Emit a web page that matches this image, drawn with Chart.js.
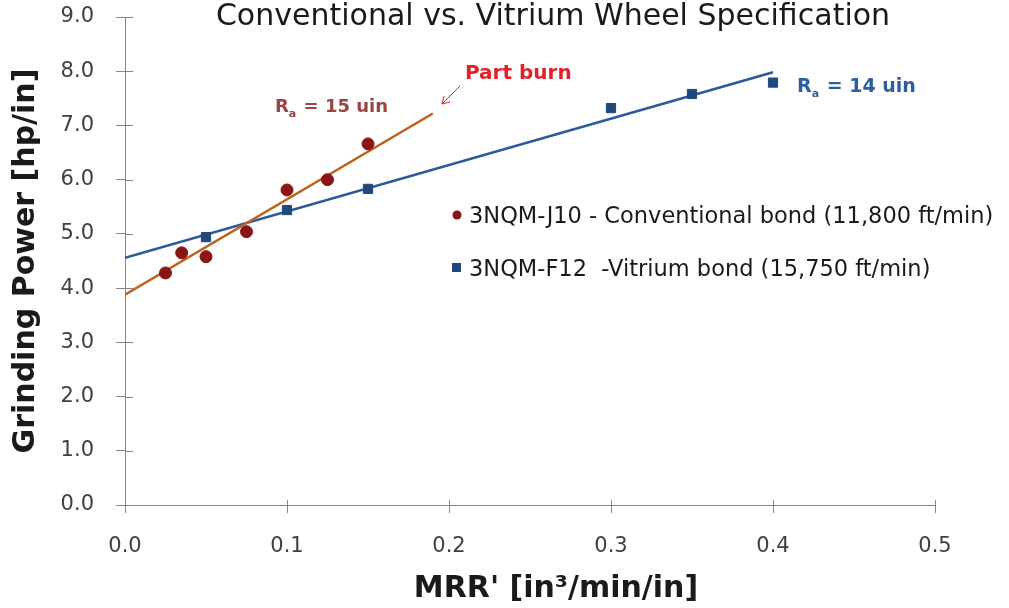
<!DOCTYPE html>
<html>
<head>
<meta charset="utf-8">
<script src="https://cdn.jsdelivr.net/npm/chart.js@4"></script>
<style>
  html, body { margin: 0; padding: 0; background: #fff; }
  #wrap { width: 1009px; height: 608px; }
</style>
</head>
<body>
<div id="wrap"><canvas id="grindChart" width="1009" height="608"></canvas></div>
<script>
// values
const convX = [0.025, 0.035, 0.05, 0.075, 0.1, 0.125, 0.15];
const convY = [4.28, 4.65, 4.58, 5.04, 5.81, 6.0, 6.66];
const vitX = [0.05, 0.1, 0.15, 0.3, 0.35, 0.4];
const vitY = [4.94, 5.44, 5.83, 7.32, 7.58, 7.79];
// trend line end points
const convFitX = [0, 0.19];
const convFitY = [3.88, 7.22];
const vitFitX = [0, 0.4];
const vitFitY = [4.56, 7.98];
const xTicks = [0, 0.1, 0.2, 0.3, 0.4, 0.5];
const yTicks = [0, 1, 2, 3, 4, 5, 6, 7, 8, 9];

const legendLabels = [
  "3NQM-J10 - Conventional bond (11,800 ft/min)",
  "3NQM-F12  -Vitrium bond (15,750 ft/min)",
];

const toPts = (xs, ys) => xs.map((x, i) => ({ x: x, y: ys[i] }));

const FONT = "'DejaVu Sans', sans-serif";

const extras = {
  id: "extras",
  afterDraw(chart) {
    const ctx = chart.ctx;
    const xs = chart.scales.x;
    const ys = chart.scales.y;
    ctx.save();
    ctx.textBaseline = "alphabetic";

    // inner halves of the tick marks (ticks cross the axes)
    ctx.strokeStyle = "#868686";
    ctx.lineWidth = 1;
    ctx.beginPath();
    yTicks.forEach((v) => {
      const py = Math.round(ys.getPixelForValue(v)) + 0.5;
      ctx.moveTo(xs.left, py);
      ctx.lineTo(xs.left + 8, py);
    });
    xTicks.forEach((v) => {
      const px = Math.round(xs.getPixelForValue(v)) + 0.5;
      ctx.moveTo(px, ys.bottom);
      ctx.lineTo(px, ys.bottom - 5);
    });
    ctx.stroke();

    // title (cut off at top like the original)
    ctx.fillStyle = "#1a1a1a";
    ctx.font = "30px " + FONT;
    ctx.textAlign = "center";
    ctx.fillText("Conventional vs. Vitrium Wheel Specification", 553, 25);

    // x axis title
    ctx.font = "bold 30px " + FONT;
    ctx.fillText("MRR' [in³/min/in]", 556, 597);

    // Ra labels
    const sub = (txt, sb, rest, x, y, color, size) => {
      ctx.fillStyle = color;
      ctx.textAlign = "left";
      ctx.font = "bold " + size + "px " + FONT;
      ctx.fillText(txt, x, y);
      let w = ctx.measureText(txt).width;
      ctx.font = "bold 11px " + FONT;
      ctx.fillText(sb, x + w, y + 5);
      w += ctx.measureText(sb).width + 1;
      ctx.font = "bold " + size + "px " + FONT;
      ctx.fillText(rest, x + w, y);
    };
    sub("R", "a", " = 15 uin", 275, 112, "#9a4444", 18);
    sub("R", "a", " = 14 uin", 797, 92, "#2e5e9e", 19);

    // part burn note and arrow
    ctx.fillStyle = "#e3202a";
    ctx.font = "bold 20px " + FONT;
    ctx.textAlign = "left";
    ctx.fillText("Part burn", 465, 79);
    ctx.strokeStyle = "#e3202a";
    ctx.lineWidth = 1;
    ctx.beginPath();
    ctx.moveTo(460, 86);
    ctx.lineTo(442, 104);
    ctx.stroke();
    ctx.beginPath();
    ctx.moveTo(442, 104);
    ctx.lineTo(444, 96);
    ctx.moveTo(442, 104);
    ctx.lineTo(450, 102);
    ctx.stroke();

    // legend
    ctx.fillStyle = "#8b1414";
    ctx.beginPath();
    ctx.arc(457, 215, 4.5, 0, Math.PI * 2);
    ctx.fill();
    ctx.fillStyle = "#1f497d";
    ctx.fillRect(452, 263, 9, 9);
    ctx.font = "22.5px " + FONT;
    ctx.fillStyle = "#1a1a1a";
    ctx.fillText(legendLabels[0], 469, 223);
    ctx.fillText(legendLabels[1], 469, 276);
    ctx.restore();
  },
};

new Chart(document.getElementById("grindChart"), {
  type: "scatter",
  data: {
    datasets: [
      {
        label: "conv fit",
        type: "line",
        data: toPts(convFitX, convFitY),
        borderColor: "#c0601f",
        borderWidth: 2.5,
        pointRadius: 0,
        order: 3,
      },
      {
        label: "vit fit",
        type: "line",
        data: toPts(vitFitX, vitFitY),
        borderColor: "#2a5a9a",
        borderWidth: 2.5,
        pointRadius: 0,
        order: 3,
      },
      {
        label: legendLabels[0],
        data: toPts(convX, convY),
        pointStyle: "circle",
        pointRadius: 6,
        backgroundColor: "#8b1414",
        borderColor: "#8b1414",
        order: 1,
      },
      {
        label: legendLabels[1],
        data: toPts(vitX, vitY),
        pointStyle: "rect",
        pointRadius: 6.5,
        backgroundColor: "#1f497d",
        borderColor: "#1f497d",
        order: 1,
      },
    ],
  },
  options: {
    responsive: false,
    animation: false,
    layout: { padding: { top: 17, right: 74, left: 0, bottom: 0 } },
    plugins: {
      legend: { display: false },
      tooltip: { enabled: false },
      title: { display: false },
    },
    scales: {
      x: {
        type: "linear",
        min: 0,
        max: 0.5,
        afterBuildTicks: (s) => { s.ticks = xTicks.map((v) => ({ value: v })); },
        afterFit: (s) => {
          s.height = 103;
          s.paddingLeft = 0;
          s.paddingRight = 0;
        },
        grid: {
          display: true,
          drawOnChartArea: false,
          drawTicks: true,
          tickLength: 8,
          color: "#868686",
        },
        border: { color: "#868686", width: 1 },
        ticks: {
          color: "#404040",
          font: { family: FONT, size: 21 },
          padding: 21,
          callback: (v) => v.toFixed(1),
        },
        title: { display: false },
      },
      y: {
        type: "linear",
        min: 0,
        max: 9,
        afterBuildTicks: (s) => { s.ticks = yTicks.map((v) => ({ value: v })); },
        afterFit: (s) => {
          s.width = 125;
          s.paddingTop = 0;
          s.paddingBottom = 0;
        },
        grid: {
          display: true,
          drawOnChartArea: false,
          drawTicks: true,
          tickLength: 9,
          color: "#868686",
        },
        border: { color: "#868686", width: 1 },
        ticks: {
          color: "#404040",
          font: { family: FONT, size: 21 },
          padding: 22,
          callback: (v) => v.toFixed(1),
        },
        title: {
          display: true,
          text: "Grinding Power [hp/in]",
          color: "#1a1a1a",
          font: { family: FONT, size: 30, weight: "bold" },
          padding: { top: 8, bottom: 0 },
        },
      },
    },
  },
  plugins: [extras],
});
</script>
</body>
</html>
